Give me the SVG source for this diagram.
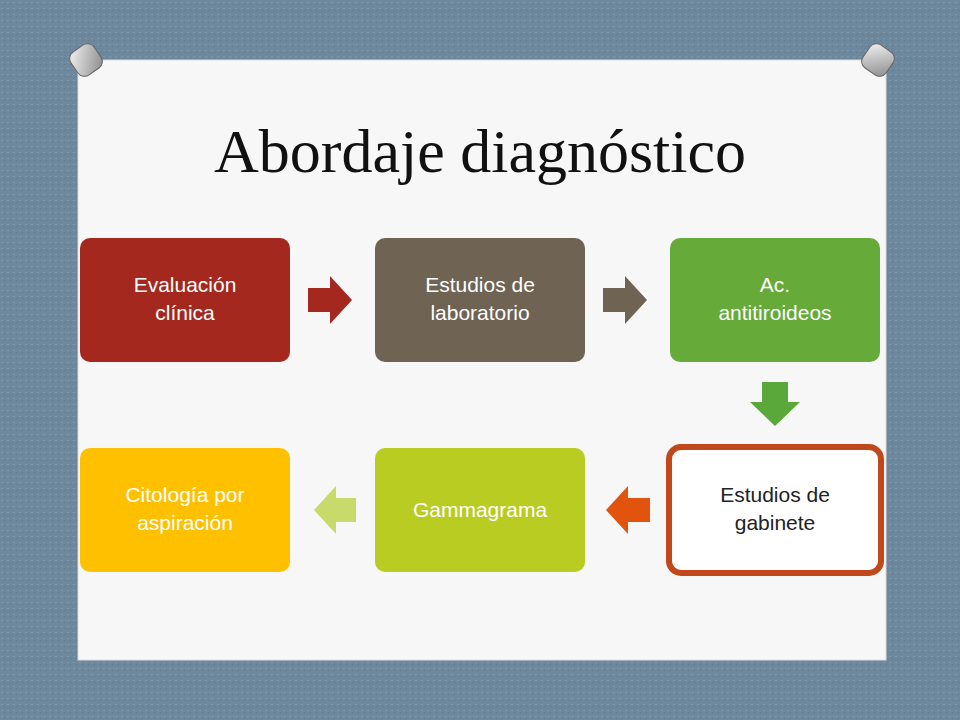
<svg xmlns="http://www.w3.org/2000/svg" width="960" height="720" viewBox="0 0 960 720">
<style>
.t{font-family:"Liberation Sans",Arial,sans-serif;font-size:21px;text-anchor:middle}
.w{fill:#fff}
</style>
<defs>
<pattern id="tex" width="6" height="6" patternUnits="userSpaceOnUse">
<rect width="6" height="6" fill="#6d889d"/><rect x="1" y="2" width="2" height="1" fill="#7f98ab"/><rect x="4" y="4" width="1" height="1" fill="#5e788d"/>
</pattern>
<linearGradient id="pin" x1="0" y1="0" x2="1" y2="1"><stop offset="0" stop-color="#f4f4f4"/><stop offset="1" stop-color="#8a8a8a"/></linearGradient>
</defs>
<rect width="960" height="720" fill="url(#tex)"/>
<rect x="78" y="60" width="808" height="600" fill="#f7f7f7" stroke="#dcdcdc"/>
<g id="pins">
<g transform="rotate(-35 86 60)"><rect x="72" y="46" width="28" height="28" rx="8" fill="url(#pin)" stroke="#666"/></g>
<g transform="rotate(35 878 60)"><rect x="864" y="46" width="28" height="28" rx="8" fill="url(#pin)" stroke="#666"/></g>
</g>
<text x="480" y="172" font-family="Liberation Serif,serif" font-size="62" text-anchor="middle" fill="#111">Abordaje diagnóstico</text>
<g id="connectors">
<polygon points="308,288 330,288 330,276 352,300 330,324 330,312 308,312" fill="#a5281e"/>
<polygon points="603,288 625,288 625,276 647,300 625,324 625,312 603,312" fill="#6f6454"/>
<polygon points="762,382 788,382 788,402 800,402 775,426 750,402 762,402" fill="#5aa83a"/>
<polygon points="650,498 628,498 628,486 606,510 628,534 628,522 650,522" fill="#e2540e"/>
<polygon points="356,498 336,498 336,486 314,510 336,534 336,522 356,522" fill="#c8da6a"/>
</g>
<g id="n1"><rect x="80" y="238" width="210" height="124" rx="10" fill="#a5281e"/><text class="t w" x="185" y="292">Evaluación</text><text class="t w" x="185" y="320">clínica</text></g>
<g id="n2"><rect x="375" y="238" width="210" height="124" rx="10" fill="#6f6454"/><text class="t w" x="480" y="292">Estudios de</text><text class="t w" x="480" y="320">laboratorio</text></g>
<g id="n3"><rect x="670" y="238" width="210" height="124" rx="10" fill="#66aa3a"/><text class="t w" x="775" y="292">Ac.</text><text class="t w" x="775" y="320">antitiroideos</text></g>
<g id="n4"><rect x="669" y="447" width="212" height="126" rx="12" fill="#fff" stroke="#c0481a" stroke-width="6"/><text class="t" x="775" y="502" fill="#222">Estudios de</text><text class="t" x="775" y="530" fill="#222">gabinete</text></g>
<g id="n5"><rect x="375" y="448" width="210" height="124" rx="10" fill="#b8cc22"/><text class="t w" x="480" y="517">Gammagrama</text></g>
<g id="n6"><rect x="80" y="448" width="210" height="124" rx="10" fill="#ffc000"/><text class="t w" x="185" y="502">Citología por</text><text class="t w" x="185" y="530">aspiración</text></g>
</svg>
